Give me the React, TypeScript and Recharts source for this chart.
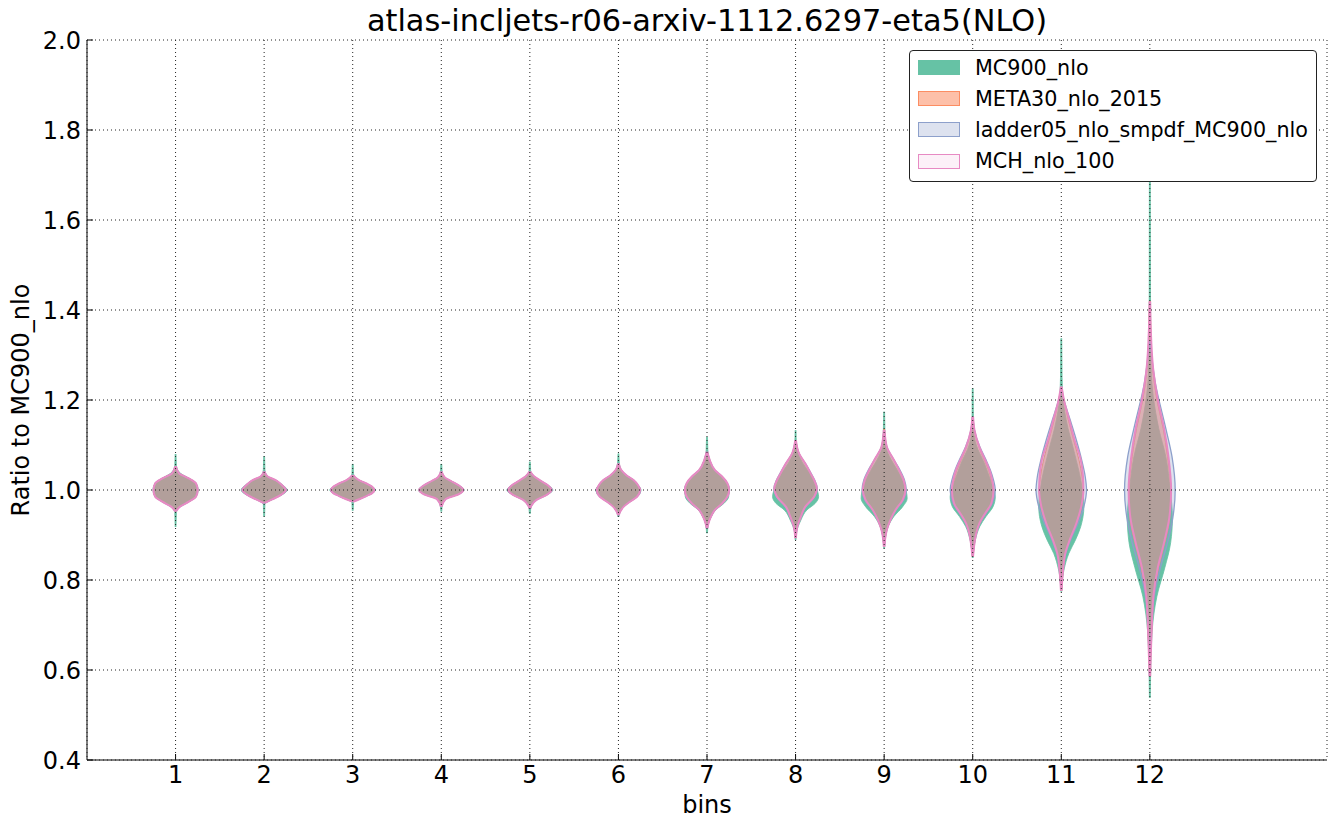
import React from 'react';
import { ComposedChart, Area, XAxis, YAxis, CartesianGrid, Label } from 'recharts';

// each violin: [ratio, half width in bin units], top to bottom
type Profile = [number, number][];

const bins = [1, 2, 3, 4, 5, 6, 7, 8, 9, 10, 11, 12];
const yTicks = [0.4, 0.6, 0.8, 1.0, 1.2, 1.4, 1.6, 1.8, 2.0];

const mc900Nlo: Profile[] = [
  [[1.08, 0.005], [1.055, 0.009], [1.04, 0.04], [1.026, 0.15], [1.015, 0.23], [1.0, 0.255], [0.985, 0.23], [0.974, 0.15], [0.963, 0.05], [0.95, 0.009], [0.918, 0.005]],
  [[1.075, 0.005], [1.045, 0.009], [1.03, 0.04], [1.022, 0.13], [1.011, 0.21], [1.0, 0.26], [0.989, 0.2], [0.979, 0.09], [0.968, 0.009], [0.941, 0.005]],
  [[1.058, 0.005], [1.036, 0.009], [1.022, 0.07], [1.015, 0.15], [1.007, 0.22], [1.0, 0.26], [0.993, 0.22], [0.987, 0.16], [0.98, 0.08], [0.972, 0.009], [0.954, 0.005]],
  [[1.058, 0.005], [1.043, 0.009], [1.028, 0.04], [1.02, 0.11], [1.01, 0.2], [1.0, 0.26], [0.99, 0.19], [0.98, 0.05], [0.962, 0.009], [0.952, 0.005]],
  [[1.063, 0.005], [1.043, 0.009], [1.03, 0.05], [1.022, 0.11], [1.011, 0.2], [1.0, 0.26], [0.989, 0.19], [0.978, 0.075], [0.966, 0.02], [0.957, 0.009], [0.947, 0.005]],
  [[1.081, 0.005], [1.062, 0.009], [1.045, 0.03], [1.033, 0.09], [1.022, 0.17], [1.011, 0.22], [1.0, 0.255], [0.985, 0.21], [0.974, 0.13], [0.963, 0.06], [0.952, 0.02], [0.944, 0.009], [0.94, 0.005]],
  [[1.118, 0.005], [1.09, 0.009], [1.067, 0.03], [1.044, 0.085], [1.03, 0.16], [1.015, 0.22], [1.0, 0.25], [0.985, 0.245], [0.97, 0.19], [0.956, 0.1], [0.941, 0.05], [0.925, 0.015], [0.904, 0.005]],
  [[1.133, 0.005], [1.1, 0.01], [1.081, 0.03], [1.06, 0.08], [1.037, 0.16], [1.007, 0.23], [0.985, 0.26], [0.97, 0.22], [0.956, 0.13], [0.933, 0.06], [0.904, 0.01], [0.889, 0.005]],
  [[1.174, 0.005], [1.13, 0.009], [1.096, 0.02], [1.067, 0.08], [1.044, 0.15], [1.011, 0.23], [0.981, 0.26], [0.963, 0.21], [0.941, 0.11], [0.919, 0.045], [0.889, 0.01], [0.87, 0.005]],
  [[1.226, 0.005], [1.133, 0.01], [1.1, 0.04], [1.06, 0.13], [1.022, 0.2], [0.985, 0.255], [0.963, 0.23], [0.941, 0.15], [0.919, 0.08], [0.889, 0.03], [0.87, 0.009], [0.849, 0.005]],
  [[1.337, 0.005], [1.25, 0.009], [1.2, 0.02], [1.156, 0.055], [1.081, 0.15], [1.022, 0.22], [0.963, 0.255], [0.919, 0.22], [0.889, 0.16], [0.859, 0.085], [0.822, 0.03], [0.795, 0.009], [0.774, 0.005]],
  [[1.75, 0.005], [1.45, 0.007], [1.28, 0.012], [1.137, 0.1], [1.074, 0.18], [1.0, 0.23], [0.939, 0.255], [0.883, 0.235], [0.828, 0.17], [0.764, 0.08], [0.685, 0.025], [0.6, 0.009], [0.538, 0.005]],
];

const meta30Nlo2015: Profile[] = [
  [[1.052, 0.004], [1.037, 0.04], [1.026, 0.15], [1.015, 0.23], [1.0, 0.25], [0.985, 0.23], [0.974, 0.15], [0.963, 0.05], [0.953, 0.004]],
  [[1.04, 0.004], [1.03, 0.04], [1.022, 0.13], [1.011, 0.2], [1.0, 0.245], [0.989, 0.19], [0.979, 0.09], [0.972, 0.004]],
  [[1.032, 0.004], [1.022, 0.07], [1.015, 0.15], [1.007, 0.22], [1.0, 0.245], [0.993, 0.22], [0.987, 0.16], [0.98, 0.08], [0.975, 0.004]],
  [[1.04, 0.004], [1.028, 0.04], [1.02, 0.11], [1.01, 0.2], [1.0, 0.25], [0.99, 0.19], [0.98, 0.05], [0.964, 0.004]],
  [[1.04, 0.004], [1.03, 0.05], [1.022, 0.11], [1.011, 0.2], [1.0, 0.245], [0.989, 0.19], [0.978, 0.075], [0.966, 0.02], [0.96, 0.004]],
  [[1.058, 0.004], [1.045, 0.03], [1.033, 0.09], [1.022, 0.17], [1.011, 0.22], [1.0, 0.245], [0.985, 0.21], [0.974, 0.13], [0.963, 0.06], [0.952, 0.02], [0.945, 0.004]],
  [[1.084, 0.004], [1.067, 0.03], [1.044, 0.09], [1.03, 0.17], [1.015, 0.23], [1.0, 0.25], [0.985, 0.23], [0.97, 0.17], [0.956, 0.09], [0.941, 0.045], [0.925, 0.015], [0.916, 0.004]],
  [[1.11, 0.004], [1.081, 0.04], [1.059, 0.11], [1.037, 0.17], [1.022, 0.21], [1.004, 0.24], [0.985, 0.21], [0.963, 0.11], [0.941, 0.06], [0.919, 0.02], [0.894, 0.004]],
  [[1.135, 0.004], [1.096, 0.03], [1.067, 0.11], [1.044, 0.17], [1.022, 0.22], [1.0, 0.24], [0.978, 0.21], [0.956, 0.13], [0.933, 0.07], [0.911, 0.03], [0.889, 0.01], [0.875, 0.004]],
  [[1.16, 0.004], [1.133, 0.02], [1.096, 0.07], [1.067, 0.13], [1.044, 0.18], [1.022, 0.21], [1.0, 0.235], [0.97, 0.215], [0.948, 0.15], [0.926, 0.08], [0.904, 0.04], [0.874, 0.015], [0.852, 0.004]],
  [[1.225, 0.004], [1.2, 0.03], [1.156, 0.08], [1.111, 0.14], [1.067, 0.2], [1.03, 0.235], [1.0, 0.25], [0.963, 0.23], [0.926, 0.175], [0.889, 0.1], [0.859, 0.045], [0.822, 0.02], [0.776, 0.004]],
  [[1.42, 0.004], [1.36, 0.01], [1.264, 0.035], [1.2, 0.08], [1.137, 0.15], [1.074, 0.2], [1.0, 0.235], [0.939, 0.225], [0.883, 0.17], [0.828, 0.1], [0.764, 0.045], [0.685, 0.02], [0.59, 0.004]],
];

const ladder05Smpdf: Profile[] = [
  [[1.052, 0.004], [1.037, 0.04], [1.026, 0.15], [1.015, 0.23], [1.0, 0.25], [0.985, 0.23], [0.974, 0.15], [0.963, 0.05], [0.953, 0.004]],
  [[1.041, 0.004], [1.03, 0.04], [1.022, 0.13], [1.011, 0.2], [1.0, 0.25], [0.989, 0.19], [0.979, 0.09], [0.971, 0.004]],
  [[1.033, 0.004], [1.022, 0.07], [1.015, 0.15], [1.007, 0.22], [1.0, 0.25], [0.993, 0.22], [0.987, 0.16], [0.98, 0.08], [0.974, 0.004]],
  [[1.041, 0.004], [1.028, 0.04], [1.02, 0.11], [1.01, 0.2], [1.0, 0.25], [0.99, 0.19], [0.98, 0.05], [0.963, 0.004]],
  [[1.041, 0.004], [1.03, 0.05], [1.022, 0.11], [1.011, 0.2], [1.0, 0.25], [0.989, 0.19], [0.978, 0.075], [0.966, 0.02], [0.959, 0.004]],
  [[1.059, 0.004], [1.045, 0.03], [1.033, 0.09], [1.022, 0.17], [1.011, 0.22], [1.0, 0.25], [0.985, 0.21], [0.974, 0.13], [0.963, 0.06], [0.952, 0.02], [0.944, 0.004]],
  [[1.085, 0.004], [1.067, 0.03], [1.044, 0.09], [1.03, 0.17], [1.015, 0.23], [1.0, 0.255], [0.985, 0.23], [0.97, 0.17], [0.956, 0.09], [0.941, 0.045], [0.925, 0.015], [0.915, 0.004]],
  [[1.11, 0.004], [1.081, 0.04], [1.059, 0.11], [1.037, 0.175], [1.022, 0.215], [1.004, 0.245], [0.985, 0.215], [0.963, 0.115], [0.941, 0.06], [0.919, 0.02], [0.895, 0.004]],
  [[1.13, 0.004], [1.096, 0.03], [1.067, 0.11], [1.044, 0.18], [1.022, 0.23], [1.0, 0.25], [0.978, 0.22], [0.956, 0.13], [0.933, 0.07], [0.911, 0.03], [0.889, 0.01], [0.876, 0.004]],
  [[1.16, 0.004], [1.133, 0.02], [1.096, 0.08], [1.067, 0.15], [1.044, 0.2], [1.022, 0.235], [1.0, 0.255], [0.97, 0.22], [0.948, 0.15], [0.926, 0.08], [0.904, 0.04], [0.874, 0.015], [0.855, 0.004]],
  [[1.22, 0.004], [1.2, 0.03], [1.156, 0.1], [1.111, 0.17], [1.067, 0.23], [1.03, 0.27], [1.0, 0.285], [0.963, 0.255], [0.926, 0.19], [0.889, 0.105], [0.859, 0.05], [0.822, 0.02], [0.78, 0.004]],
  [[1.33, 0.004], [1.24, 0.06], [1.137, 0.18], [1.074, 0.25], [1.0, 0.286], [0.939, 0.26], [0.883, 0.2], [0.828, 0.12], [0.764, 0.05], [0.68, 0.015], [0.62, 0.004]],
];

const mchNlo100: Profile[] = [
  [[1.053, 0.004], [1.037, 0.04], [1.026, 0.15], [1.015, 0.23], [1.0, 0.25], [0.985, 0.23], [0.974, 0.15], [0.963, 0.05], [0.952, 0.004]],
  [[1.041, 0.004], [1.03, 0.04], [1.022, 0.13], [1.011, 0.2], [1.0, 0.245], [0.989, 0.19], [0.979, 0.09], [0.971, 0.004]],
  [[1.033, 0.004], [1.022, 0.07], [1.015, 0.15], [1.007, 0.22], [1.0, 0.245], [0.993, 0.22], [0.987, 0.16], [0.98, 0.08], [0.974, 0.004]],
  [[1.041, 0.004], [1.028, 0.04], [1.02, 0.11], [1.01, 0.2], [1.0, 0.25], [0.99, 0.19], [0.98, 0.05], [0.963, 0.004]],
  [[1.041, 0.004], [1.03, 0.05], [1.022, 0.11], [1.011, 0.2], [1.0, 0.245], [0.989, 0.19], [0.978, 0.075], [0.966, 0.02], [0.959, 0.004]],
  [[1.059, 0.004], [1.045, 0.03], [1.033, 0.09], [1.022, 0.17], [1.011, 0.22], [1.0, 0.245], [0.985, 0.21], [0.974, 0.13], [0.963, 0.06], [0.952, 0.02], [0.944, 0.004]],
  [[1.085, 0.004], [1.067, 0.03], [1.044, 0.09], [1.03, 0.17], [1.015, 0.23], [1.0, 0.25], [0.985, 0.23], [0.97, 0.17], [0.956, 0.09], [0.941, 0.045], [0.925, 0.015], [0.915, 0.004]],
  [[1.111, 0.004], [1.081, 0.04], [1.059, 0.11], [1.037, 0.17], [1.022, 0.21], [1.004, 0.24], [0.985, 0.21], [0.963, 0.11], [0.941, 0.06], [0.919, 0.02], [0.893, 0.004]],
  [[1.133, 0.004], [1.096, 0.03], [1.067, 0.11], [1.044, 0.17], [1.022, 0.22], [1.0, 0.24], [0.978, 0.21], [0.956, 0.13], [0.933, 0.07], [0.911, 0.03], [0.889, 0.01], [0.874, 0.004]],
  [[1.163, 0.004], [1.133, 0.02], [1.096, 0.075], [1.067, 0.14], [1.044, 0.19], [1.022, 0.22], [1.0, 0.235], [0.97, 0.21], [0.948, 0.14], [0.926, 0.075], [0.904, 0.04], [0.874, 0.015], [0.852, 0.004]],
  [[1.23, 0.004], [1.2, 0.03], [1.156, 0.09], [1.111, 0.15], [1.067, 0.22], [1.03, 0.245], [1.0, 0.25], [0.963, 0.225], [0.926, 0.17], [0.889, 0.095], [0.859, 0.045], [0.822, 0.02], [0.776, 0.004]],
  [[1.419, 0.004], [1.36, 0.01], [1.264, 0.04], [1.2, 0.09], [1.137, 0.16], [1.074, 0.21], [1.0, 0.24], [0.939, 0.22], [0.883, 0.16], [0.828, 0.09], [0.764, 0.04], [0.685, 0.02], [0.586, 0.004]],
];

const series = [
  { key: 'mc900', name: 'MC900_nlo', profiles: mc900Nlo, color: '#66c2a5', fillOpacity: 1, strokeWidth: 0.8 },
  { key: 'meta30', name: 'META30_nlo_2015', profiles: meta30Nlo2015, color: '#fc8d62', fillOpacity: 0.55, strokeWidth: 1 },
  { key: 'ladder05', name: 'ladder05_nlo_smpdf_MC900_nlo', profiles: ladder05Smpdf, color: '#8da0cb', fillOpacity: 0.3, strokeWidth: 1.3 },
  { key: 'mch', name: 'MCH_nlo_100', profiles: mchNlo100, color: '#e78ac3', fillOpacity: 0.12, strokeWidth: 2 },
];

// one row per ratio value, each violin stored as [left, right] range around its bin
const ratios = Array.from(
  new Set(series.flatMap((s) => s.profiles.flatMap((p) => p.map((pt) => pt[0]))))
).sort((a, b) => b - a);

const chartData = ratios.map((y) => {
  const row: any = { y };
  series.forEach((s) => {
    s.profiles.forEach((prof, i) => {
      const pt = prof.find((p) => p[0] === y);
      row[`${s.key}_${bins[i]}`] = pt ? [bins[i] - pt[1], bins[i] + pt[1]] : [null, null];
    });
  });
  return row;
});

const YTitle = (props: any) => {
  const vb = props.viewBox;
  const x = vb.x + 21;
  const y = vb.y + vb.height / 2;
  return (
    <text x={x} y={y} transform={`rotate(-90, ${x}, ${y})`} textAnchor="middle" dominantBaseline="central" fontSize={24} fill="#000">
      Ratio to MC900_nlo
    </text>
  );
};

const noTick = () => <g />;

export default function App() {
  return (
    <div style={{ position: 'absolute', left: 0, top: 0, width: 1337, height: 830, background: '#fff', fontFamily: 'DejaVu Sans' }}>
      <ComposedChart
        width={1337}
        height={830}
        data={chartData}
        layout="vertical"
        margin={{ top: 40, right: 10, bottom: 0, left: 0 }}
      >
        <XAxis
          type="number"
          domain={[0, 14]}
          ticks={bins}
          interval={0}
          allowDataOverflow
          height={70}
          tickSize={-6}
          tickMargin={12}
          axisLine={{ stroke: '#000' }}
          tickLine={{ stroke: '#000' }}
          tick={{ fill: '#000', fontSize: 24 }}
        >
          <Label value="bins" position="insideBottom" offset={17} style={{ fontSize: 24, fill: '#000' }} />
        </XAxis>
        <XAxis
          xAxisId="top"
          orientation="top"
          type="number"
          domain={[0, 14]}
          ticks={bins}
          interval={0}
          height={0}
          tickSize={-6}
          axisLine={{ stroke: '#000' }}
          tickLine={{ stroke: '#000' }}
          tick={noTick}
        />
        <YAxis
          type="number"
          dataKey="y"
          domain={[0.4, 2.0]}
          ticks={yTicks}
          interval={0}
          reversed
          allowDataOverflow
          width={87}
          tickSize={-6}
          tickMargin={12}
          tickFormatter={(v: number) => v.toFixed(1)}
          axisLine={{ stroke: '#000' }}
          tickLine={{ stroke: '#000' }}
          tick={{ fill: '#000', fontSize: 24 }}
        >
          <Label content={YTitle} />
        </YAxis>
        <YAxis
          yAxisId="right"
          orientation="right"
          type="number"
          domain={[0.4, 2.0]}
          ticks={yTicks}
          interval={0}
          reversed
          width={0}
          tickSize={-6}
          axisLine={{ stroke: '#000' }}
          tickLine={{ stroke: '#000' }}
          tick={noTick}
        />
        {series.map((s) =>
          bins.map((b) => (
            <Area
              key={`${s.key}_${b}`}
              dataKey={`${s.key}_${b}`}
              type="monotone"
              connectNulls
              fill={s.color}
              fillOpacity={s.fillOpacity}
              stroke={s.color}
              strokeWidth={s.strokeWidth}
              dot={false}
              activeDot={false}
              legendType="none"
              isAnimationActive={false}
            />
          ))
        )}
        <CartesianGrid stroke="#222" strokeDasharray="1 3" zIndex={600} />
      </ComposedChart>
      <div
        style={{
          position: 'absolute',
          left: 87,
          top: 6,
          width: 1240,
          textAlign: 'center',
          fontSize: 30.4,
          lineHeight: '30.4px',
          color: '#000',
          whiteSpace: 'nowrap',
        }}
      >
        atlas-incljets-r06-arxiv-1112.6297-eta5(NLO)
      </div>
      <div
        style={{
          position: 'absolute',
          left: 909,
          top: 50,
          width: 406,
          height: 130,
          border: '1px solid #222',
          borderRadius: 4,
          background: '#fff',
          fontSize: 20.7,
          color: '#000',
        }}
      >
        {series.map((s, i) => (
          <div
            key={s.key}
            style={{ position: 'absolute', left: 8, top: 9 + i * 31.2, height: 15, display: 'flex', alignItems: 'center', whiteSpace: 'nowrap' }}
          >
            <div
              style={{
                width: 42,
                height: 15,
                boxSizing: 'border-box',
                background: s.fillOpacity >= 1 ? s.color : `${s.color}${Math.round(s.fillOpacity * 255).toString(16).padStart(2, '0')}`,
                border: s.fillOpacity >= 1 ? 'none' : `1.5px solid ${s.color}`,
              }}
            />
            <span style={{ marginLeft: 15 }}>{s.name}</span>
          </div>
        ))}
      </div>
    </div>
  );
}
